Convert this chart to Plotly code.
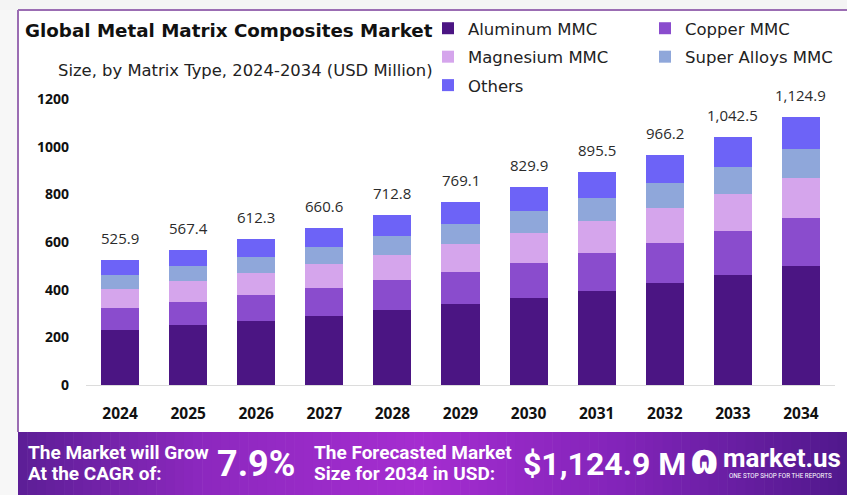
import plotly.graph_objects as go

years = ["2024", "2025", "2026", "2027", "2028", "2029", "2030", "2031", "2032", "2033", "2034"]
aluminum = [231, 250, 270, 291, 314, 339, 366, 395, 426, 460, 500]
copper = [93, 100, 108, 117, 126, 136, 147, 158, 171, 184, 199]
magnesium = [80, 86, 92, 99, 107, 115, 124, 134, 144, 156, 168]
super_alloys = [58, 63, 68, 73, 79, 85, 92, 99, 107, 115, 124]
others = [63.9, 68.4, 74.3, 80.6, 86.8, 94.1, 100.9, 109.5, 118.2, 127.5, 133.9]
totals = [525.9, 567.4, 612.3, 660.6, 712.8, 769.1, 829.9, 895.5, 966.2, 1042.5, 1124.9]

series = [
    ("Aluminum MMC", aluminum, "#4b1583", "legend"),
    ("Copper MMC", copper, "#8a4ccd", "legend2"),
    ("Magnesium MMC", magnesium, "#d5a5ec", "legend"),
    ("Super Alloys MMC", super_alloys, "#8fa7da", "legend2"),
    ("Others", others, "#6d63f7", "legend"),
]

W, H = 847, 495
ML, MR, MT, MB = 86, 12, 88, 110
PW = W - ML - MR
PH = H - MT - MB


def px(x):
    return (x - ML) / PW


def py(y):
    return (H - MB - y) / PH


fig = go.Figure()
for name, vals, col, leg in series:
    fig.add_trace(go.Bar(x=years, y=vals, name=name, legend=leg, legendgroup=name,
                         marker=dict(color=col, line=dict(width=0)), width=0.56))

annotations = []
for i, t in enumerate(totals):
    annotations.append(dict(x=i, y=t, xref="x", yref="y", text=f"{t:,.1f}", showarrow=False,
                            yanchor="bottom", yshift=10,
                            font=dict(family="Open Sans", size=15, color="#2b2b2b")))

annotations.append(dict(xref="paper", yref="paper", x=px(23), y=py(30), xanchor="left", yanchor="middle",
                        text="<b>Global Metal Matrix Composites Market</b>", showarrow=False,
                        font=dict(family="DejaVu Sans", size=18.3, color="#111")))
annotations.append(dict(xref="paper", yref="paper", x=px(56), y=py(70), xanchor="left", yanchor="middle",
                        text="Size, by Matrix Type, 2024-2034 (USD Million)", showarrow=False,
                        font=dict(family="DejaVu Sans", size=16.4, color="#222")))

stops = [(18, (92, 30, 150)), (200, (140, 40, 190)), (420, (165, 45, 208)), (620, (130, 36, 185)), (847, (80, 24, 140))]
shapes = []
shapes.append(dict(type="rect", xref="paper", yref="paper", x0=px(0), x1=px(W), y0=py(10), y1=py(0),
                   fillcolor="#f4f4f4", line=dict(width=0), layer="below"))
shapes.append(dict(type="rect", xref="paper", yref="paper", x0=px(0), x1=px(18), y0=py(H), y1=py(10),
                   fillcolor="#f7f7f7", line=dict(width=0), layer="below"))
n = 90
for i in range(n):
    x0 = 18 + (W - 18) * i / n
    x1 = 18 + (W - 18) * (i + 1) / n + 0.6
    xm = (x0 + x1) / 2
    for j in range(len(stops) - 1):
        if stops[j][0] <= xm <= stops[j + 1][0]:
            f = (xm - stops[j][0]) / (stops[j + 1][0] - stops[j][0])
            c = [round(stops[j][1][k] + f * (stops[j + 1][1][k] - stops[j][1][k])) for k in range(3)]
            break
    shapes.append(dict(type="rect", xref="paper", yref="paper", x0=px(x0), x1=px(x1), y0=py(H), y1=py(432),
                       fillcolor=f"rgb({c[0]},{c[1]},{c[2]})", line=dict(width=0), layer="above"))
shapes.append(dict(type="line", xref="paper", yref="paper", x0=px(18), x1=px(W), y0=py(10), y1=py(10),
                   line=dict(color="#9b6db3", width=2)))
shapes.append(dict(type="line", xref="paper", yref="paper", x0=px(18), x1=px(18), y0=py(432), y1=py(10),
                   line=dict(color="#9b6db3", width=2)))

bf = "Roboto"


def btext(x, y, text, size, family=bf, anchor="left"):
    return dict(xref="paper", yref="paper", x=px(x), y=py(y), xanchor=anchor, yanchor="middle",
                showarrow=False, text=text, font=dict(family=family, size=size, color="white"))


annotations += [
    btext(26, 452, "<b>The Market will Grow</b>", 19),
    btext(26, 473, "<b>At the CAGR of:</b>", 19),
    btext(215, 464, "<b>7.9%</b>", 36),
    btext(312, 452, "<b>The Forecasted Market</b>", 19),
    btext(312, 473, "<b>Size for 2034 in USD:</b>", 19),
    btext(521, 464, "<b>$1,124.9 M</b>", 32),
    btext(688, 459, "<b>ɷ</b>", 42, family="DejaVu Sans"),
    btext(721, 458, "<b>market.us</b>", 26),
    btext(727, 476, "ONE STOP SHOP FOR THE REPORTS", 6.3),
]

legend_common = dict(orientation="v", xref="container", yref="container", xanchor="left", yanchor="top",
                     font=dict(family="DejaVu Sans", size=16.5, color="#222"), traceorder="grouped",
                     tracegroupgap=4, bgcolor="rgba(0,0,0,0)", itemclick=False, itemdoubleclick=False)

fig.update_layout(
    width=W, height=H,
    margin=dict(l=ML, r=MR, t=MT, b=MB, pad=0, autoexpand=False),
    barmode="stack",
    paper_bgcolor="white", plot_bgcolor="white",
    showlegend=True,
    legend=dict(legend_common, x=428 / W, y=1 - 11 / H),
    legend2=dict(legend_common, x=645 / W, y=1 - 11 / H),
    xaxis=dict(type="category", range=[-0.5, 10.5], showgrid=False, showline=True, linecolor="#dcdcdc",
               linewidth=1, ticks="", ticklabelstandoff=14,
               tickfont=dict(family="Open Sans", size=15.5, color="#111", weight="bold")),
    yaxis=dict(range=[0, 1246], tickvals=[0, 200, 400, 600, 800, 1000, 1200], showgrid=False,
               zeroline=False, showline=False, ticks="", ticklabelstandoff=16,
               tickfont=dict(family="Open Sans", size=14, color="#111", weight="bold")),
    annotations=annotations,
    shapes=shapes,
)

fig.write_html("out.html")
